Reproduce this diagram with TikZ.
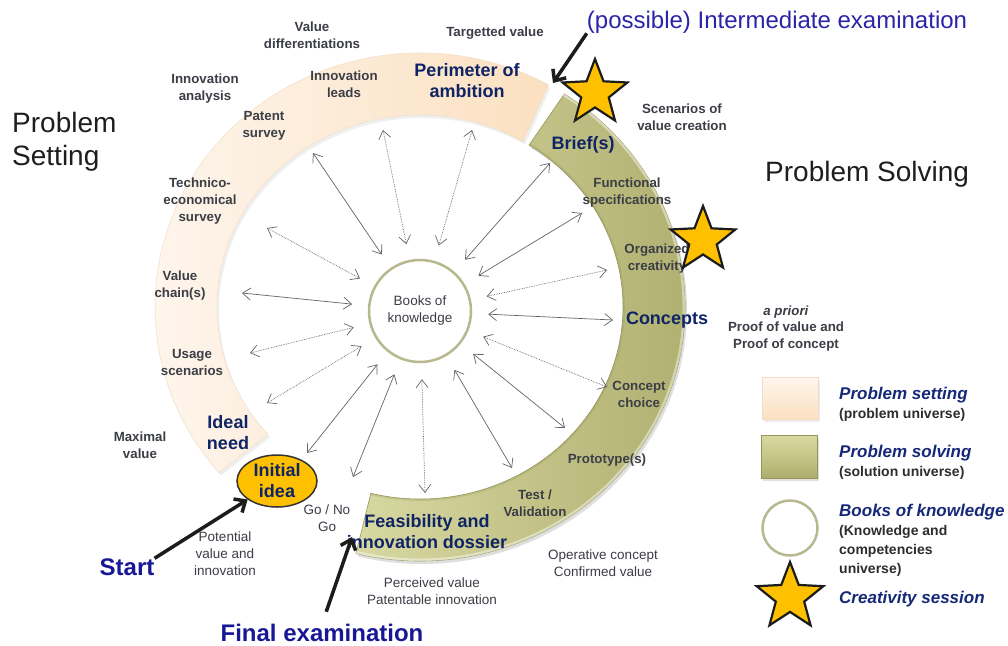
\documentclass[tikz,border=0pt]{standalone}
\usepackage{fontspec}
\setmainfont{Liberation Sans}
\usetikzlibrary{arrows.meta,shapes.geometric,calc,shadows}
\definecolor{lbl}{RGB}{60,62,70}
\definecolor{ttl}{RGB}{30,30,30}
\definecolor{vblue}{RGB}{44,36,168}
\definecolor{sblue}{RGB}{24,24,150}
\definecolor{navy}{RGB}{14,36,100}
\definecolor{lnavy}{RGB}{22,40,120}
\definecolor{lgray}{RGB}{45,45,45}
\definecolor{arr}{RGB}{100,100,100}
\definecolor{ring}{RGB}{184,184,142}
\definecolor{gold}{RGB}{255,192,0}
\definecolor{blk}{RGB}{28,28,28}
\definecolor{peachA}{RGB}{251,224,192}
\definecolor{peachB}{RGB}{254,246,238}
\definecolor{peachE}{RGB}{242,222,198}
\definecolor{oliveL}{RGB}{216,216,162}
\definecolor{olive}{RGB}{198,198,136}
\definecolor{oliveD}{RGB}{172,172,108}
\definecolor{oliveE}{RGB}{150,150,92}
\begin{document}
\begin{tikzpicture}[x=1pt,y=-1pt,
  lab/.style={font=\fontsize{13.3}{17}\selectfont\bfseries,text=lbl,align=center,inner sep=0pt},
  labr/.style={font=\fontsize{13.5}{17}\selectfont,text=lbl,align=center,inner sep=0pt},
  big/.style={font=\fontsize{18}{21}\selectfont\bfseries,text=navy,align=center,inner sep=0pt},
  kar/.style={draw=arr,line width=0.7pt,{Straight Barb[length=8pt,width=12pt]}-{Straight Barb[length=8pt,width=12pt]},shorten <=16pt},
  kard/.style={kar,densely dotted},
  bigarr/.style={draw=blk,line width=3.5pt,-{Straight Barb[length=9pt,width=16pt]}},
  starnode/.style={star,star points=5,star point ratio=2.35,minimum size=68pt,inner sep=0pt,fill=gold,draw=blk,line width=2.2pt},
  legh/.style={font=\fontsize{17}{20}\selectfont\bfseries\itshape,text=lnavy,anchor=west,inner sep=0pt},
  legs/.style={font=\fontsize{14}{19}\selectfont\bfseries,text=lgray,anchor=west,inner sep=0pt,align=left},
]
\useasboundingbox (0,0) rectangle (1008,645);
\fill[white] (0,0) rectangle (1008,645);
\coordinate (C) at (420,307);
% problem setting band
\path[left color=peachB,right color=peachA,draw=peachE,line width=0.5pt,
  drop shadow={opacity=0.12,shadow xshift=2pt,shadow yshift=-3pt}]
  ($(C)+(61:265pt and 254pt)$) arc[start angle=61,end angle=220.7,x radius=265pt,y radius=254pt]
  -- ($(C)+(221.5:203pt and 192pt)$) arc[start angle=221.5,end angle=59.5,x radius=203pt,y radius=192pt] -- cycle;
% problem solving band
\path[left color=oliveL,right color=oliveD,draw=oliveE,line width=0.6pt,
  drop shadow={opacity=0.25,shadow xshift=2pt,shadow yshift=-3pt}]
  ($(C)+(57:265pt and 254pt)$) arc[start angle=57,end angle=-104,x radius=265pt,y radius=254pt]
  -- ($(C)+(-104:203pt and 192pt)$) arc[start angle=-104,end angle=57.5,x radius=203pt,y radius=192pt] -- cycle;
\begin{scope}
\clip ($(C)+(57:265pt and 254pt)$) arc[start angle=57,end angle=-104,x radius=265pt,y radius=254pt]
  -- ($(C)+(-104:203pt and 192pt)$) arc[start angle=-104,end angle=57.5,x radius=203pt,y radius=192pt] -- cycle;
\draw[white,opacity=0.45,line width=5pt] ($(C)+(57:265pt and 254pt)$) arc[start angle=57,end angle=-104,x radius=265pt,y radius=254pt];
\draw[oliveE,opacity=0.25,line width=4pt] ($(C)+(57.5:203pt and 192pt)$) arc[start angle=57.5,end angle=-104,x radius=203pt,y radius=192pt];
\end{scope}
% books of knowledge
\node[circle,draw=ring,line width=2.5pt,fill=white,minimum size=102pt,inner sep=0pt,
  font=\fontsize{13.5}{17}\selectfont,text=lbl,align=center] (bok) at (420,311) {Books of\\knowledge};
% arrow outer ends
\coordinate (o1) at (313,153);
\coordinate (o2) at (383,130);
\coordinate (o3) at (472,130);
\coordinate (o4) at (550,163);
\coordinate (o5) at (582,213);
\coordinate (o6) at (607,270);
\coordinate (o7) at (613,320);
\coordinate (o8) at (607,387);
\coordinate (o9) at (565,428);
\coordinate (o10) at (512,468);
\coordinate (o11) at (425,493);
\coordinate (o12) at (353,477);
\coordinate (o13) at (307,453);
\coordinate (o14) at (267,403);
\coordinate (o15) at (250,353);
\coordinate (o16) at (242,293);
\coordinate (o17) at (267,228);
\draw[kar] (bok) -- (o1);
\draw[kard] (bok) -- (o2);
\draw[kard] (bok) -- (o3);
\draw[kar] (bok) -- (o4);
\draw[kar] (bok) -- (o5);
\draw[kard] (bok) -- (o6);
\draw[kar] (bok) -- (o7);
\draw[kard] (bok) -- (o8);
\draw[kar] (bok) -- (o9);
\draw[kar] (bok) -- (o10);
\draw[kard] (bok) -- (o11);
\draw[kar] (bok) -- (o12);
\draw[kar] (bok) -- (o13);
\draw[kard] (bok) -- (o14);
\draw[kard] (bok) -- (o15);
\draw[kar] (bok) -- (o16);
\draw[kard] (bok) -- (o17);
% small labels
\node[lab] (vd) at (312,35.5) {Value\\differentiations};
\node[lab] (tv) at (495,33) {Targetted value};
\node[lab] (ia) at (205,88.5) {Innovation\\analysis};
\node[lab] (il) at (344,84) {Innovation\\leads};
\node[lab] (ps) at (264,125.5) {Patent\\survey};
\node[lab] (tes) at (200,201) {Technico-\\economical\\survey};
\node[lab] (vc) at (180,285.5) {Value\\chain(s)};
\node[lab] (us) at (192,362) {Usage\\scenarios};
\node[lab] (mv) at (140,445.5) {Maximal\\value};
\node[labr] (pvi) at (225,553.5) {Potential\\value and\\innovation};
\node[labr] (go) at (327,518.5) {Go / No\\Go};
\node[labr] (pv) at (432,591.5) {Perceived value\\Patentable innovation};
\node[labr] (oc) at (603,563) {Operative concept\\Confirmed value};
\node[lab] (tvl) at (535,503.5) {Test /\\Validation};
\node[lab] (pro) at (607,460) {Prototype(s)};
\node[lab] (cc) at (639,394) {Concept\\choice};
\node[lab,font=\fontsize{13.3}{16.5}\selectfont\bfseries] (apr) at (786,328.5) {\textit{a priori}\\Proof of value and\\Proof of concept};
\node[lab] (orc) at (657,259) {Organized\\creativity};
\node[lab] (fs) at (627,192.5) {Functional\\specifications};
\node[lab] (svc) at (682,117) {Scenarios of\\value creation};
% big labels
\node[big] (pa) at (467,81) {Perimeter of\\ambition};
\node[big] (br) at (583,145) {Brief(s)};
\node[big] (co) at (667,320) {Concepts};
\node[big] (fd) at (427,532) {Feasibility and\\innovation dossier};
\node[big] (in) at (228,432.5) {Ideal\\need};
\node[big,ellipse,fill=gold,draw=blk!90,line width=1.5pt,minimum width=80pt,minimum height=52pt] (idea) at (277,481) {Initial\\idea};
% titles
\node[font=\fontsize{28}{33}\selectfont,text=ttl,anchor=west,align=left,inner sep=0pt] (pset) at (12,141.5) {Problem\\Setting};
\node[font=\fontsize{28}{33}\selectfont,text=ttl,anchor=west,inner sep=0pt] (psol) at (765,174) {Problem Solving};
\node[font=\fontsize{24}{28}\selectfont,text=vblue,inner sep=0pt] (ie) at (777,22) {(possible) Intermediate examination};
\node[font=\fontsize{24}{28}\selectfont\bfseries,text=sblue,inner sep=0pt] (start) at (127,567) {Start};
\node[font=\fontsize{24}{28}\selectfont\bfseries,text=sblue,inner sep=0pt] (fin) at (322,633) {Final examination};
% stars
\node[starnode] (s1) at (595,93) {};
\node[starnode] (s2) at (703,240) {};
% big arrows
\coordinate (fe) at (352,537);
\coordinate (gap) at (553,83);
\draw[bigarr] (start.north east) -- (idea);
\draw[bigarr,shorten <=13pt] (fin.north) -- (fe);
\draw[bigarr] (ie.south west) -- (gap);
% legend
\node[rectangle,minimum width=56pt,minimum height=42pt,inner sep=0pt,top color=peachB,bottom color=peachA,draw=peachE,line width=0.5pt,
  drop shadow={opacity=0.15,shadow xshift=2pt,shadow yshift=-3pt}] (lg1) at (790,398) {};
\node[rectangle,minimum width=56pt,minimum height=43pt,inner sep=0pt,top color=oliveL,bottom color=oliveD,middle color=olive,draw=oliveE,line width=0.5pt,
  drop shadow={opacity=0.25,shadow xshift=2pt,shadow yshift=-3pt}] (lg2) at (789,456.5) {};
\node[circle,draw=ring,line width=2.5pt,minimum size=55pt,inner sep=0pt] (lg3) at (790,528) {};
\node[starnode,minimum size=70pt] (lg4) at (790,597) {};
\node[legh] (t1) at (839,395) {Problem setting};
\node[legs] (t1b) at (839,415) {(problem universe)};
\node[legh] (t2) at (839,453) {Problem solving};
\node[legs] (t2b) at (839,473) {(solution universe)};
\node[legh] (t3) at (839,512) {Books of knowledge};
\node[legs] (t3b) at (839,551) {(Knowledge and\\competencies\\universe)};
\node[legh] (t4) at (839,599) {Creativity session};
\end{tikzpicture}
\end{document}
